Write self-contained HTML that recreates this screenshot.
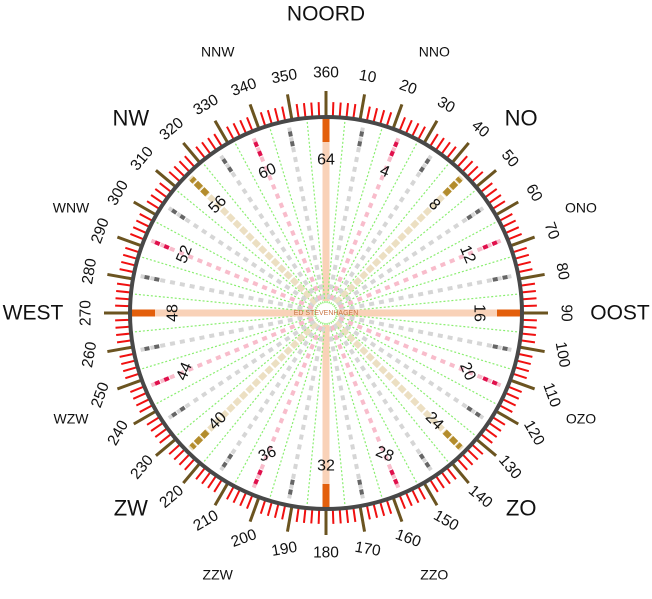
<!DOCTYPE html>
<html><head><meta charset="utf-8"><style>
html,body{margin:0;padding:0;background:#fff}
svg{display:block;font-family:"Liberation Sans",sans-serif}
</style></head><body>
<svg id="chart" width="652" height="599" viewBox="0 0 652 599"></svg>
<script>
const windNames=["NOORD","NNO","NO","ONO","OOST","OZO","ZO","ZZO","ZUID","ZZW","ZW","WZW","WEST","WNW","NW","NNW"];
const windRadius=[299,283,276,276,294,276,276,283,299,283,276,276,293,276,276,283];
const pointCount=64;
const degreeLabels=[360,10,20,30,40,50,60,70,80,90,100,110,120,130,140,150,160,170,180,190,200,210,220,230,240,250,260,270,280,290,300,310,320,330,340,350];
const pointNumbers=[64,4,8,12,16,20,24,28,32,36,40,44,48,52,56,60];

const CX=326,CY=313,R=196;
const svg=document.getElementById('chart');
const NS='http://www.w3.org/2000/svg';
function pt(a,r){const t=(a-90)*Math.PI/180;return [CX+r*Math.cos(t),CY+r*Math.sin(t)];}
function rot(a){a=((a%360)+360)%360;if(a<=90)return a;if(a<=270)return 180-a;return a-360;}
function line(a,r1,r2,col,w,dash){const l=document.createElementNS(NS,'line');const p=pt(a,r1),q=pt(a,r2);
l.setAttribute('x1',p[0]);l.setAttribute('y1',p[1]);l.setAttribute('x2',q[0]);l.setAttribute('y2',q[1]);
l.setAttribute('stroke',col);l.setAttribute('stroke-width',w);if(dash)l.setAttribute('stroke-dasharray',dash);svg.appendChild(l);return l;}

for(let k=0;k<pointCount;k++){
  const a=k*360/pointCount;let l;
  if(k%16===0){l=line(a,12,R,'#f9d2b8',7);
    l=line(a,171,R,'#e35f0c',7);}
  else if(k%8===0){l=line(a,14,R,'#ecdfc2',6,'7 2');
    l=line(a,168,190,'#b38c2c',6,'7 2');}
  else if(k%4===0){l=line(a,14,R,'#f8bccb',4,'5 5');
    l=line(a,170,190,'#e0104c',4,'5 5');}
  else if(k%2===0){l=line(a,14,R,'#d6d6d6',4,'5 5');
    l=line(a,170,190,'#666',4,'5 5');}
  else {l=line(a,10,R,'#8aee70',1.2,'2 2');}
}
for(let d=0;d<360;d+=2){
  let l;
  if(d%10===0){l=line(d,R,222,'#6b5420',3);}
  else{l=line(d,R,211,'#f01010',2);}
  
}
const c=document.createElementNS(NS,'circle');c.setAttribute('cx',CX);c.setAttribute('cy',CY);c.setAttribute('r',R);
c.setAttribute('fill','none');c.setAttribute('stroke','#484848');c.setAttribute('stroke-width',4);
svg.appendChild(c);

function text(str,a,r,size,col,name,rotate){
  const p=pt(a,r);const t=document.createElementNS(NS,'text');
  t.setAttribute('x',p[0]);t.setAttribute('y',p[1]);t.setAttribute('text-anchor','middle');t.setAttribute('dominant-baseline','central');
  t.setAttribute('font-size',size);t.setAttribute('fill',col);
  if(rotate)t.setAttribute('transform','rotate('+rot(a)+' '+p[0]+' '+p[1]+')');
  t.textContent=str;svg.appendChild(t);
  
  
  return t;}
degreeLabels.forEach((v,i)=>text(String(v),i*10,240,15.5,'#111','degree-label',true));
pointNumbers.forEach((v,i)=>text(String(v),i*22.5,153,16,'#111','point-number',true));
windNames.forEach((n,i)=>text(n,i*22.5,windRadius[i],i%4===0?21:(i%2===0?22:14),'#111','wind-name-'+n.toLowerCase(),false));
const sig=document.createElementNS(NS,'text');sig.setAttribute('x',CX);sig.setAttribute('y',CY+2);sig.setAttribute('text-anchor','middle');
sig.setAttribute('font-size',7);sig.setAttribute('fill','#c87444');sig.textContent='ED STEVENHAGEN';svg.appendChild(sig);


</script>
</body></html>
